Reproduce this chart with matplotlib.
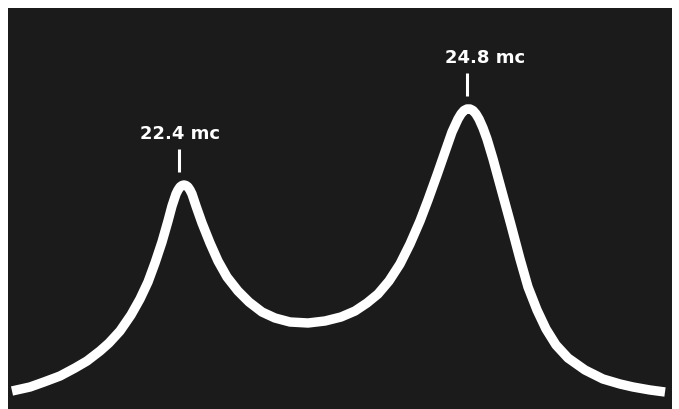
import matplotlib
matplotlib.use("Agg")
import matplotlib.pyplot as plt

# Trace (horizontal position, vertical deflection), arbitrary units
sweep_x = [4, 22, 36, 52, 67, 79, 92, 101, 112, 123, 132, 140, 147, 154, 160, 164,
           168, 170, 172, 174, 176, 178, 180, 182, 184, 188, 194, 202, 210, 219,
           230, 241, 254, 267, 282, 300, 317, 333, 347, 359, 370, 381, 392, 402,
           412, 420, 429, 437, 444, 450, 453, 456, 459, 462, 465, 468, 471, 475,
           479, 485, 494, 503, 512, 520, 529, 538, 548, 560, 577, 595, 612, 625,
           642, 657]
deflection = [18, 22, 27, 33, 41, 48, 58, 66, 78, 94, 110, 127, 146, 167, 188, 203,
              215, 219, 222, 223.5, 224, 223.5, 222, 219, 215, 203, 186, 166, 148, 132,
              118, 107, 97, 91, 87, 86, 88, 92, 98, 106, 115, 128, 145, 165,
              188, 209, 234, 257, 277, 290, 295, 298.5, 300, 300, 298.5, 295, 290, 281,
              270, 250, 217, 184, 150, 122, 99, 80, 64, 51, 39, 30, 25, 22,
              19, 17]

# Marker labels
marker_labels = ["22.4 mc", "24.8 mc"]
marker_x = [171, 459]
marker_peak = [224, 300]
label_dx = [1, 18]

fig = plt.figure(figsize=(6.79, 4.10), dpi=100)
fig.patch.set_facecolor("white")
ax = fig.add_axes([8 / 679, 0, 664 / 679, 401 / 410])
ax.set_facecolor("#1b1b1b")
ax.set_xlim(0, 664)
ax.set_ylim(0, 401)
for s in ax.spines.values():
    s.set_visible(False)
ax.set_xticks([])
ax.set_yticks([])

ax.plot(sweep_x, deflection, color="white", lw=6.8, solid_capstyle="butt",
        solid_joinstyle="round")

for lab, mx, pk, dx in zip(marker_labels, marker_x, marker_peak, label_dx):
    ax.plot([mx, mx], [pk + 13, pk + 36], color="white", lw=2.2, solid_capstyle="butt")
    ax.text(mx + dx, pk + 52, lab, color="white", fontsize=13, fontweight="semibold",
            ha="center", va="center", family="DejaVu Sans")

fig.savefig("out.png", dpi=100, facecolor=fig.get_facecolor())
